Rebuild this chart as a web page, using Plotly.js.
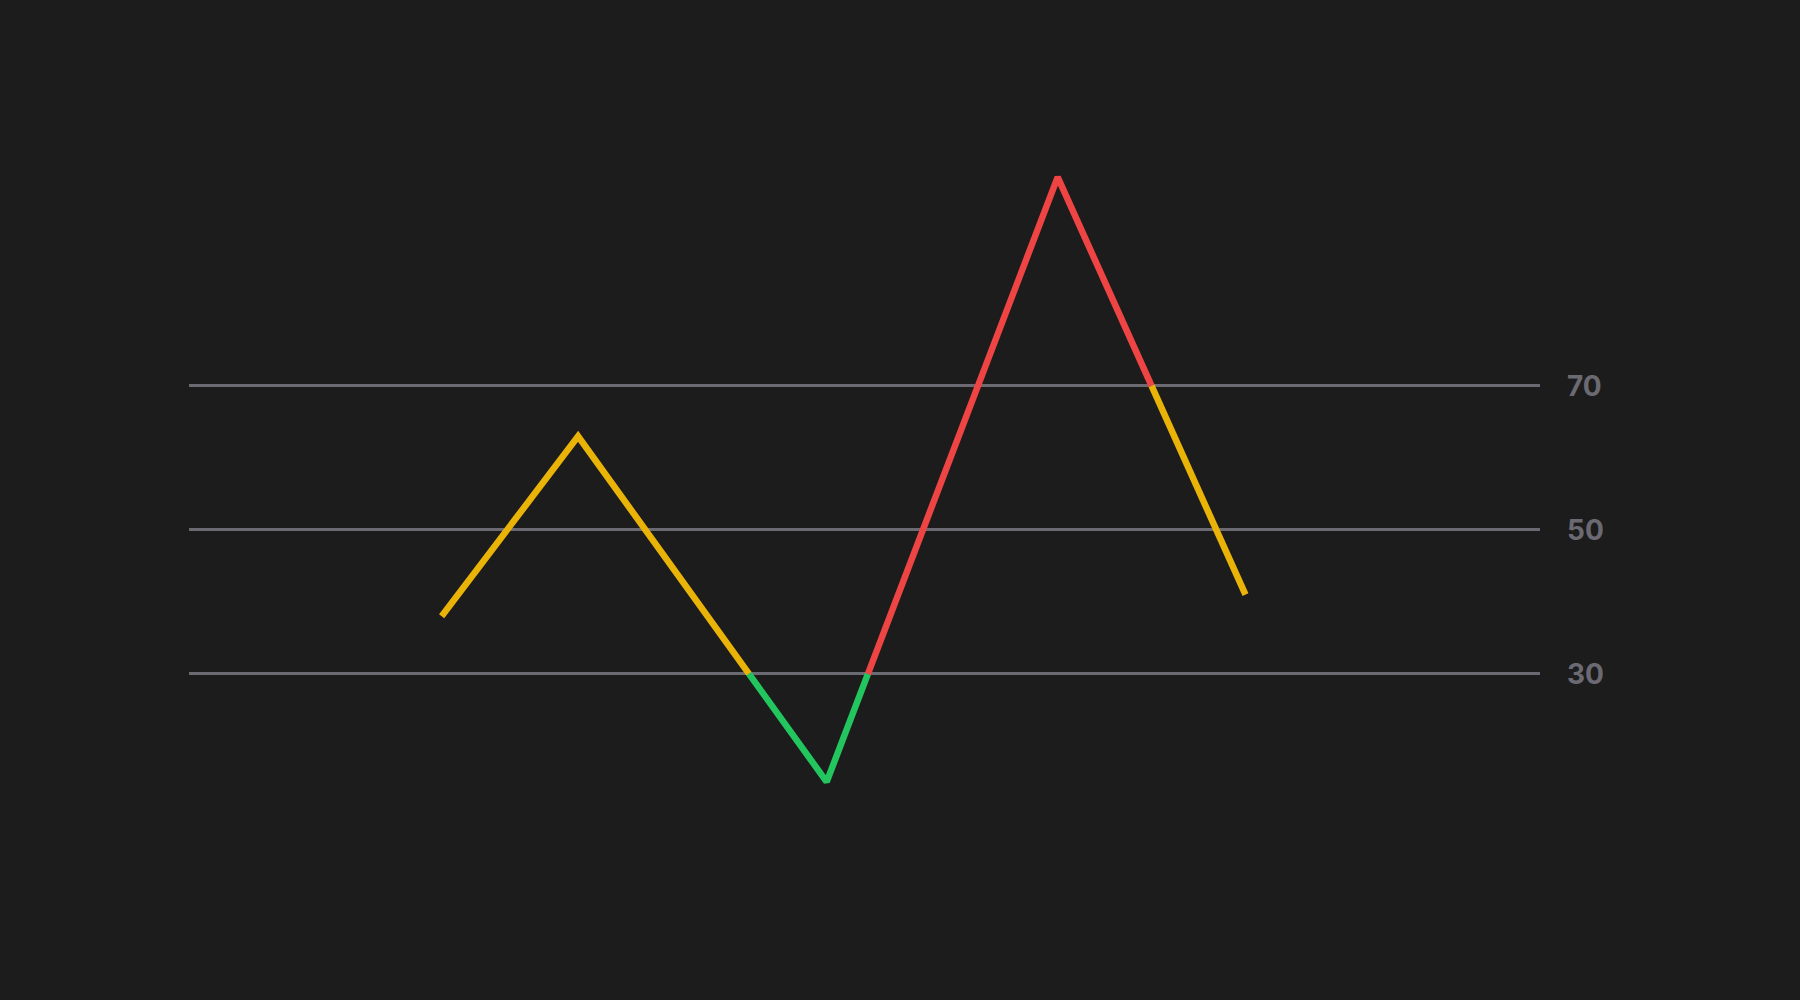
<!DOCTYPE html>
<html>
<head>
<meta charset="utf-8">
<script src="https://cdn.plot.ly/plotly-3.0.1.min.js"></script>
<style>
  html, body { margin: 0; padding: 0; background: #1c1c1c; }
  #chart { width: 1800px; height: 1000px; }
</style>
</head>
<body>
<div id="chart"></div>
<script>
// values (line vertices)
const xPos = [18.7, 28.8, 47.2, 64.3, 78.2];
const rsiValues = [38, 63, 15, 99, 41];
const levelTicks = [30, 50, 70];

// where the line changes colour: level + direction of the crossing
const colourBreaks = [
    { level: 30, dir: 'down' },
    { level: 30, dir: 'up' },
    { level: 70, dir: 'down' }
];
const pieceColours = ['#eab308', '#22c55e', '#ef4444', '#eab308'];

// split the line into coloured pieces at the crossings
function buildPieces() {
    const pieces = [];
    let cur = { x: [xPos[0]], y: [rsiValues[0]] };
    let b = 0;
    for (let i = 0; i < rsiValues.length - 1; i++) {
        const x0 = xPos[i], y0 = rsiValues[i], x1 = xPos[i + 1], y1 = rsiValues[i + 1];
        if (b < colourBreaks.length) {
            const br = colourBreaks[b];
            const crosses = br.dir === 'down' ? (y0 > br.level && y1 <= br.level)
                                              : (y0 < br.level && y1 >= br.level);
            if (crosses) {
                const t = (br.level - y0) / (y1 - y0);
                const cx = x0 + t * (x1 - x0);
                cur.x.push(cx); cur.y.push(br.level);
                pieces.push(cur);
                cur = { x: [cx], y: [br.level] };
                b++;
            }
        }
        cur.x.push(x1); cur.y.push(y1);
    }
    pieces.push(cur);
    return pieces;
}

const traces = buildPieces().map((p, i) => ({
    x: p.x, y: p.y,
    type: 'scatter', mode: 'lines',
    line: { color: pieceColours[i], width: 6.5 },
    hoverinfo: 'skip'
}));

const layout = {
    width: 1800, height: 1000,
    paper_bgcolor: '#1c1c1c', plot_bgcolor: '#1c1c1c',
    margin: { l: 189, r: 260, t: 0, b: 0 },
    showlegend: false,
    xaxis: { range: [0, 100], visible: false, fixedrange: true },
    yaxis: {
        range: [-15.3, 123.6], side: 'right',
        tickvals: levelTicks, ticktext: levelTicks.map(String),
        showgrid: true, gridcolor: '#6b6a72', gridwidth: 3,
        zeroline: false, showline: false, ticks: '',
        ticklabelstandoff: 26,
        tickfont: { family: 'Inter', size: 28, color: '#6b6a72', weight: 700 },
        fixedrange: true
    }
};

Plotly.newPlot('chart', traces, layout, { displayModeBar: false, staticPlot: true });
</script>
</body>
</html>
